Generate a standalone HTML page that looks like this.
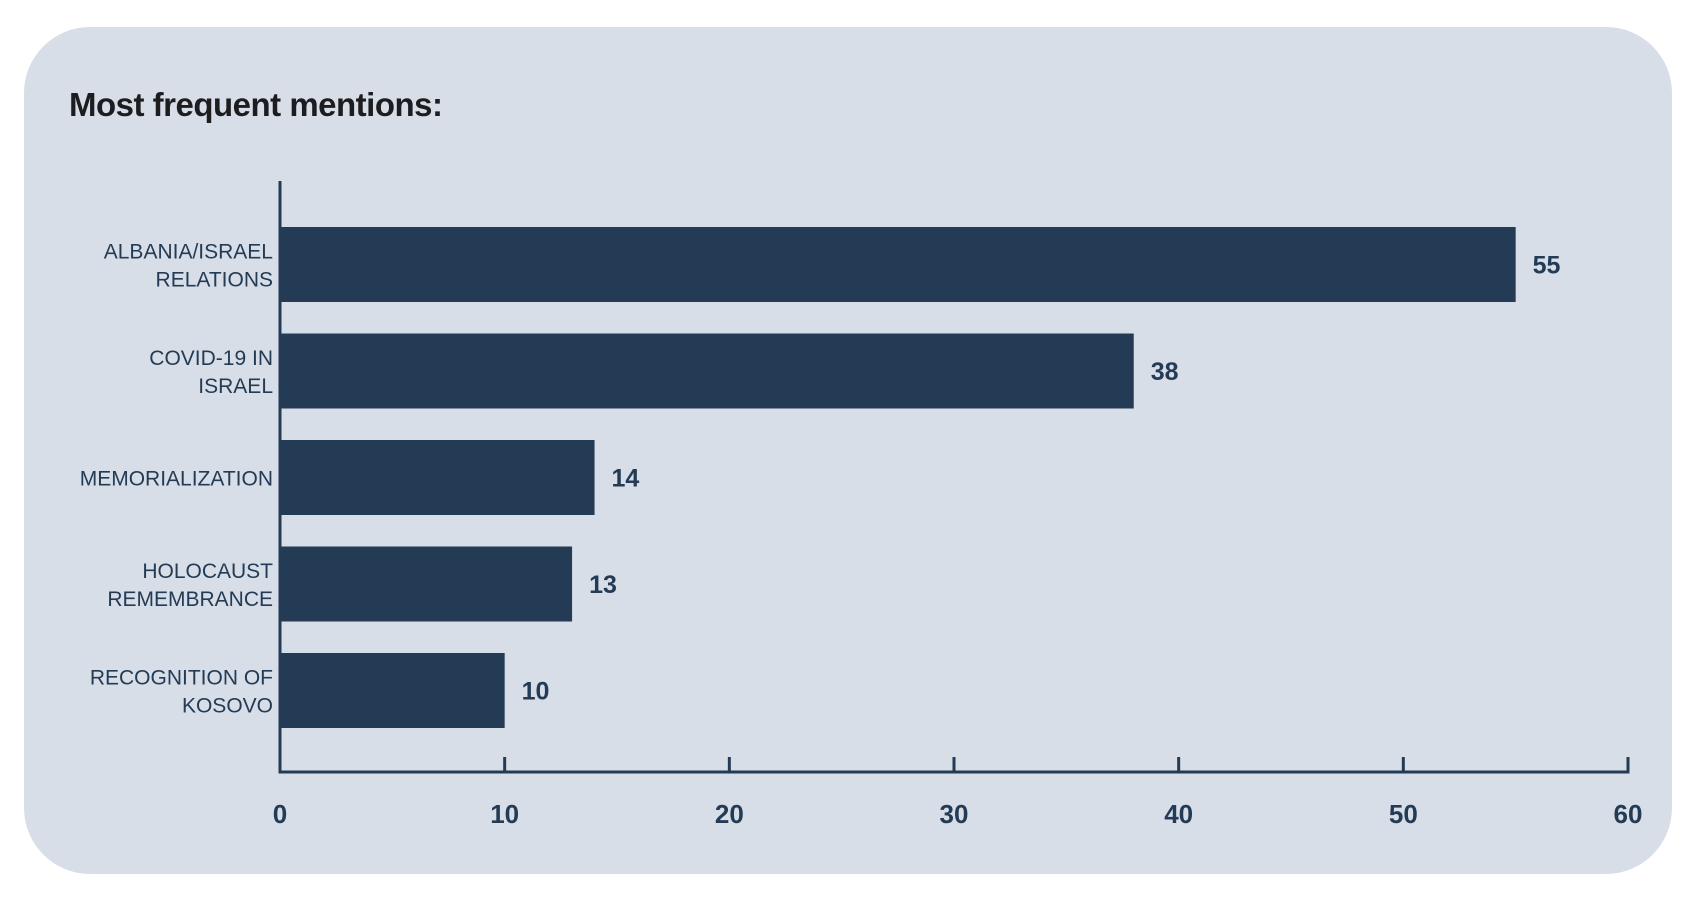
<!DOCTYPE html>
<html><head><meta charset="utf-8"><style>
html,body{margin:0;padding:0;background:#fff;width:1692px;height:904px;overflow:hidden}
#panel{position:absolute;left:24px;top:27px;width:1648px;height:847px;background:#d7dee8;border-radius:66px}
#title{position:absolute;left:69px;top:86px;font:bold 33px "Liberation Sans",sans-serif;color:#1d1d1f;letter-spacing:-0.5px}
svg{position:absolute;left:0;top:0}
</style></head><body>
<div id="panel"></div>
<div id="title">Most frequent mentions:</div>
<svg id="chart" width="1692" height="904"></svg>
<script>
const categories=[["ALBANIA/ISRAEL","RELATIONS"],["COVID-19 IN","ISRAEL"],["MEMORIALIZATION"],["HOLOCAUST","REMEMBRANCE"],["RECOGNITION OF","KOSOVO"]];
const values=[55,38,14,13,10];
const ticks=[0,10,20,30,40,50,60];
const NS="http://www.w3.org/2000/svg";
const svg=document.getElementById('chart');
const x0=280,x1=1628,xmax=60,axisY=772,top0=227,step=106.5,bh=75;
const xs=v=>x0+(x1-x0)*v/xmax;
function el(t,a){const e=document.createElementNS(NS,t);for(const k in a)e.setAttribute(k,a[k]);svg.appendChild(e);return e;}
const col="#243b55";
values.forEach((v,i)=>{
  const y=top0+i*step;
  const r=el('rect',{x:x0,y:y,width:xs(v)-x0,height:bh,fill:col});
  
  
  const t=el('text',{x:xs(v)+17,y:y+bh/2+9,fill:col,'font-family':'Liberation Sans, sans-serif','font-weight':'bold','font-size':'25'});
  t.textContent=v;
  
  
  const lines=categories[i];
  const lab=el('text',{x:273,'text-anchor':'end',fill:col,'font-family':'Liberation Sans, sans-serif','font-size':'21'});
  
  
  lines.forEach((s,j)=>{const ts=document.createElementNS(NS,'tspan');ts.setAttribute('x',273);ts.setAttribute('y',y+bh/2+8+(j-(lines.length-1)/2)*28);ts.textContent=s;lab.appendChild(ts);});
});
const ya=el('line',{x1:x0,y1:181,x2:x0,y2:axisY+1.5,stroke:col,'stroke-width':3});


const xa=el('line',{x1:x0-1.5,y1:axisY,x2:x1+1.5,y2:axisY,stroke:col,'stroke-width':3});


ticks.forEach(t=>{
  const l=el('line',{x1:xs(t),y1:757,x2:xs(t),y2:axisY,stroke:col,'stroke-width':3});
  
  
  const tx=el('text',{x:xs(t),y:823,'text-anchor':'middle',fill:col,'font-family':'Liberation Sans, sans-serif','font-weight':'bold','font-size':'26'});
  tx.textContent=t;
  
  
});
</script>
</body></html>
